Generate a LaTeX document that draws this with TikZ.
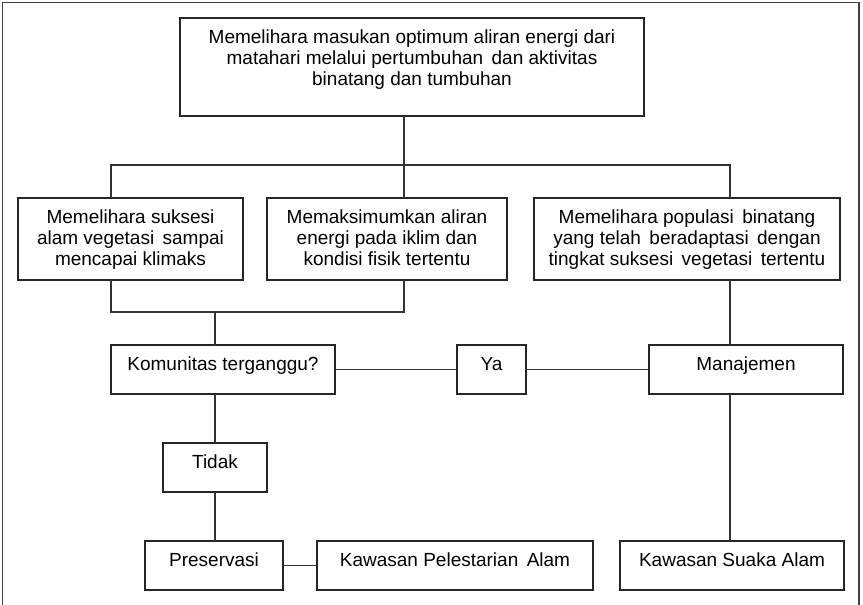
\documentclass[tikz,border=0pt]{standalone}
\usepackage{fontspec}
\setmainfont{Liberation Sans}
\usetikzlibrary{calc}

% Box content: fixed-size minipage, text hung from the top edge
\newcommand{\bxtext}[3]{%
  \begin{minipage}[t][#2pt][t]{#1pt}%
    \fontsize{19}{21}\selectfont\centering
    \rule{0pt}{25pt}#3%
  \end{minipage}}

\tikzset{
  box/.style={draw=black!85, line width=1.2pt, inner sep=0pt, outer sep=0pt,
              anchor=north west, fill=white},
  link/.style={draw=black!80, line width=1.2pt},
  frame/.style={draw=black!75, line width=1.2pt}
}

\begin{document}
\begin{tikzpicture}[x=1pt, y=-1pt]
  \useasboundingbox (0,0) rectangle (863,605);

  % open frame round the chart
  \draw[frame] (2.5,605) -- (2.5,2.5) -- (859,2.5) -- (859,605);

  % boxes
  \node[box] (top) at (180,18) {\bxtext{464}{98}{Memelihara masukan optimum aliran energi dari\\matahari melalui pertumbuhan\, dan aktivitas\\binatang dan tumbuhan}};
  \node[box] (A) at (18,198) {\bxtext{225}{82}{Memelihara suksesi\\alam vegetasi\, sampai\\mencapai klimaks}};
  \node[box] (B) at (267,198) {\bxtext{240}{82}{Memaksimumkan aliran\\energi pada iklim dan\\kondisi fisik tertentu}};
  \node[box] (C) at (534,198) {\bxtext{306}{82}{Memelihara populasi\, binatang\\yang telah\, beradaptasi\, dengan\\tingkat suksesi\, vegetasi\, tertentu}};
  \node[box] (kom) at (111,345) {\bxtext{224}{49}{Komunitas terganggu?}};
  \node[box] (ya) at (457,345) {\bxtext{69}{49}{Ya}};
  \node[box] (man) at (649,345) {\bxtext{194}{49}{Manajemen}};
  \node[box] (tidak) at (163,443) {\bxtext{104}{49}{Tidak}};
  \node[box] (pres) at (145,541) {\bxtext{138}{49}{Preservasi}};
  \node[box] (pel) at (317,541) {\bxtext{276}{49}{Kawasan Pelestarian\, Alam}};
  \node[box] (suaka) at (620,541) {\bxtext{224}{49}{Kawasan Suaka Alam}};

  % connector columns and junctions
  \coordinate (xL) at (111,0);
  \coordinate (xM) at (404,0);
  \coordinate (xR) at (730,0);
  \coordinate (fk) at (404,165);
  \coordinate (mg) at (215,312);

  % top fork
  \draw[link] (top.south -| xM) -- (fk);
  \draw[link] (A.north -| xL) -- (xL |- fk) -- (xR |- fk) -- (C.north -| xR);
  \draw[link] (fk) -- (B.north -| xM);

  % merge of the two left branches
  \draw[link] (A.south -| xL) -- (xL |- mg) -- (xM |- mg) -- (B.south -| xM);
  \draw[link] (mg) -- (kom.north -| mg);

  % decision row
  \draw[link] (kom) -- (ya);
  \draw[link] (ya) -- (man);
  \draw[link] (C.south -| xR) -- (man.north -| xR);
  \draw[link] (man.south -| xR) -- (suaka.north -| xR);

  % "Tidak" branch
  \draw[link] (kom.south -| mg) -- (tidak.north -| mg);
  \draw[link] (tidak.south -| mg) -- (pres.north -| mg);
  \draw[link] (pres) -- (pel);
\end{tikzpicture}
\end{document}
